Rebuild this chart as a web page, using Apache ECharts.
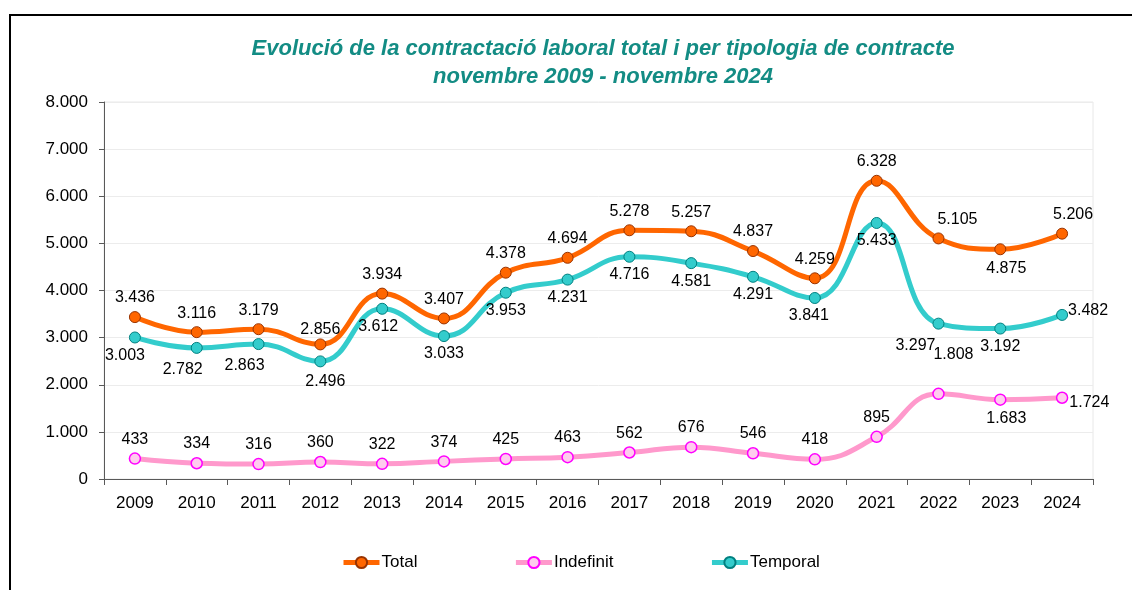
<!DOCTYPE html>
<html>
<head>
<meta charset="utf-8">
<script src="https://cdn.jsdelivr.net/npm/echarts@6/dist/echarts.min.js"></script>
<style>
html,body{margin:0;padding:0;background:#fff;}
#chart{width:1132px;height:590px;}
</style>
</head>
<body>
<div id="chart"></div>
<script>
const years = ['2009','2010','2011','2012','2013','2014','2015','2016','2017','2018','2019','2020','2021','2022','2023','2024'];
const total = [3436,3116,3179,2856,3934,3407,4378,4694,5278,5257,4837,4259,6328,5105,4875,5206];
const indefinit = [433,334,316,360,322,374,425,463,562,676,546,418,895,1808,1683,1724];
const temporal = [3003,2782,2863,2496,3612,3033,3953,4231,4716,4581,4291,3841,5433,3297,3192,3482];
const seriesNames = ['Total','Indefinit','Temporal'];
const titleLines = ['Evolució de la contractació laboral total i per tipologia de contracte','novembre 2009 - novembre 2024'];

// label placement overrides (index -> label options)
const totalLabelFix = {3:{distance:1}, 13:{offset:[19,0]}, 14:{position:'bottom', offset:[6,0]}, 15:{offset:[11,0]}};
const temporalLabelFix = {0:{offset:[-10,0]},1:{offset:[-14,4]},2:{offset:[-14,4]},3:{offset:[5,2]},4:{offset:[-4,0]},11:{offset:[-6,0]},13:{offset:[-23,4]},15:{position:'right',distance:0,offset:[0,-4]}};
const indefLabelFix = {13:{offset:[15,-20]},14:{position:'bottom',offset:[6,0]},15:{position:'right',distance:1,offset:[0,5]}};

function fmt(v){ return String(v).replace(/\B(?=(\d{3})+(?!\d))/g,'.'); }
function build(vals, fix){ return vals.map((v,i)=> fix[i] ? {value:v, label:fix[i]} : v); }

const FONT = '"Liberation Sans", Arial, sans-serif';
const chart = echarts.init(document.getElementById('chart'));
const labelBase = {show:true, color:'#000', fontSize:16, fontFamily:FONT, formatter:p=>fmt(p.value)};

chart.setOption({
  animation:false,
  backgroundColor:'#fff',
  graphic:[{type:'rect', shape:{x:10,y:15,width:1300,height:800}, style:{fill:'none', stroke:'#000', lineWidth:2}, silent:true}],
  title:{
    text:titleLines.join('\n'), left:598, textAlign:'center', top:30,
    textStyle:{fontFamily:FONT, fontSize:22, fontStyle:'italic', fontWeight:'bold', color:'#138c84', lineHeight:28}
  },
  legend:{
    data:seriesNames, left:336, top:549, itemWidth:36, itemHeight:14, itemGap:96,
    lineStyle:{width:5},
    textStyle:{fontFamily:FONT, fontSize:17, color:'#000', padding:[0,0,0,-3]}
  },
  grid:{left:104, right:39, top:102, bottom:111, show:true, borderColor:'#e8e8e8', borderWidth:1},
  xAxis:{
    type:'category', data:years, boundaryGap:true,
    axisLine:{lineStyle:{color:'#595959', width:1}},
    axisTick:{show:true, length:6, lineStyle:{color:'#595959'}},
    axisLabel:{color:'#000', fontSize:17, fontFamily:FONT, margin:16}
  },
  yAxis:{
    type:'value', min:0, max:8000, interval:1000,
    axisLine:{show:true, lineStyle:{color:'#595959', width:1}},
    axisTick:{show:true, length:5, lineStyle:{color:'#595959'}},
    axisLabel:{color:'#000', fontSize:17, fontFamily:FONT, margin:16, formatter:v=>fmt(v)},
    splitLine:{lineStyle:{color:'#ececec', width:1}}
  },
  series:[
    {name:seriesNames[0], type:'line', data:build(total,totalLabelFix), smooth:0.45,
     lineStyle:{color:'#ff6600', width:5}, itemStyle:{color:'#ff6600', borderColor:'#993300', borderWidth:1},
     symbol:'circle', symbolSize:11, z:3,
     label:Object.assign({}, labelBase, {position:'top', distance:5})},
    {name:seriesNames[1], type:'line', data:build(indefinit,indefLabelFix), smooth:0.45,
     lineStyle:{color:'#ff99cc', width:5}, itemStyle:{color:'#ffccee', borderColor:'#ff00ff', borderWidth:1.5},
     symbol:'circle', symbolSize:11, z:2,
     label:Object.assign({}, labelBase, {position:'top', distance:5})},
    {name:seriesNames[2], type:'line', data:build(temporal,temporalLabelFix), smooth:0.45,
     lineStyle:{color:'#33cccc', width:5}, itemStyle:{color:'#33cccc', borderColor:'#008080', borderWidth:1},
     symbol:'circle', symbolSize:11, z:2,
     label:Object.assign({}, labelBase, {position:'bottom', distance:4})}
  ]
});
</script>
</body>
</html>
